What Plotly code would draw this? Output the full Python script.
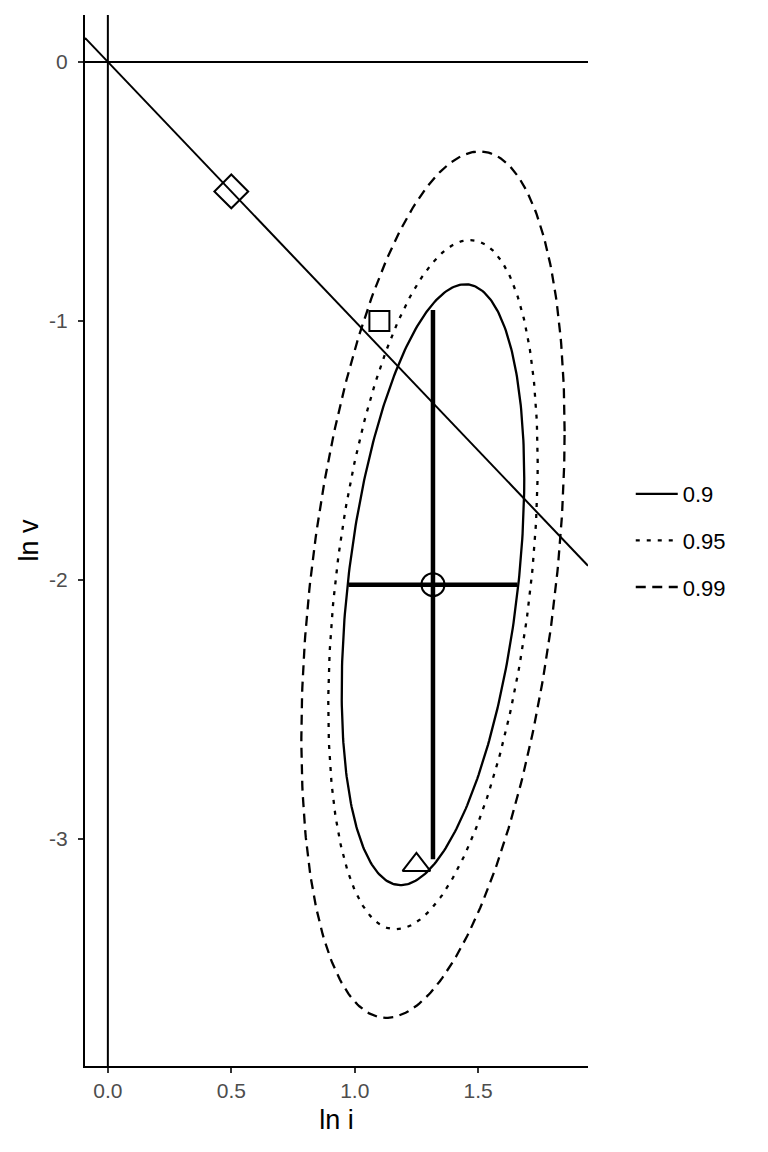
import numpy as np
import plotly.graph_objects as go

# ---- data ----
levels = ["0.9", "0.95", "0.99"]
level_radius = [2.188, 2.510, 3.155]          # ellipse radius multipliers
level_dash = ["solid", "4px,7px", "10px,6.5px"]

center_x, center_y = 1.317, -2.018              # mean point (open circle)
sd_x, sd_y, rho = 0.169, 0.530, 0.354           # ellipse covariance params

err_x_half = 0.342                              # horizontal bar half width
err_y_half = 1.060                              # vertical bar half height

pt_names = ["diamond", "square", "triangle"]
pt_x = [0.5, 1.1, 1.25]
pt_y = [-0.5, -1.0, -3.1]
pt_symbol = ["diamond-open", "square-open", "triangle-up-open"]
pt_size = [26, 20, 24]

abline_slope, abline_intercept = -1.0, 0.0
hline_y = 0.0
vline_x = 0.0

x_range = [-0.0926, 1.945]
y_range = [-3.876, 0.181]
x_ticks = [0, 0.5, 1.0, 1.5]
x_tick_labels = ["0.0", "0.5", "1.0", "1.5"]
y_ticks = [0, -1, -2, -3]
y_tick_labels = ["0", "-1", "-2", "-3"]

FONT = "Liberation Sans, Arial, sans-serif"

fig = go.Figure()

# reference lines
fig.add_shape(type="line", xref="paper", yref="y", x0=0, x1=1, y0=hline_y, y1=hline_y,
              line=dict(color="black", width=2), layer="above")
fig.add_shape(type="line", xref="x", yref="paper", x0=vline_x, x1=vline_x, y0=0, y1=1,
              line=dict(color="black", width=2), layer="above")
fig.add_shape(type="line", xref="x", yref="y",
              x0=x_range[0], x1=x_range[1],
              y0=abline_intercept + abline_slope * x_range[0],
              y1=abline_intercept + abline_slope * x_range[1],
              line=dict(color="black", width=2), layer="above")

# ellipses
t = np.linspace(0, 2 * np.pi, 361)
for lev, r, dash in zip(levels, level_radius, level_dash):
    ex = center_x + r * sd_x * np.cos(t)
    ey = center_y + r * sd_y * (rho * np.cos(t) + np.sqrt(1 - rho ** 2) * np.sin(t))
    fig.add_trace(go.Scatter(x=ex, y=ey, mode="lines", name=lev, legendgroup=lev,
                             line=dict(color="black", width=2.3, dash=dash)))

# mean with error bars
fig.add_trace(go.Scatter(
    x=[center_x], y=[center_y], mode="markers", showlegend=False,
    marker=dict(symbol="circle-open", size=23, color="black", line=dict(width=2)),
    error_x=dict(type="constant", value=err_x_half, width=0, thickness=4.5, color="black"),
    error_y=dict(type="constant", value=err_y_half, width=0, thickness=4.5, color="black"),
))

# other points
for n, x, y, s, sz in zip(pt_names, pt_x, pt_y, pt_symbol, pt_size):
    fig.add_trace(go.Scatter(x=[x], y=[y], mode="markers", name=n, showlegend=False,
                             marker=dict(symbol=s, size=sz, color="black",
                                         line=dict(width=2, color="black"))))

fig.update_layout(
    width=768, height=1152,
    template="none",
    paper_bgcolor="white", plot_bgcolor="white",
    margin=dict(l=77, r=188, t=7, b=94),
    font=dict(family=FONT, color="black"),
    legend=dict(x=1.085, xanchor="left", y=0.5, yanchor="middle",
                font=dict(size=22, color="black"), tracegroupgap=15,
                itemwidth=42,
                bgcolor="rgba(0,0,0,0)"),
    xaxis=dict(range=x_range, showgrid=False, zeroline=False, showline=True,
               linecolor="black", linewidth=2, ticks="outside", ticklen=5,
               tickwidth=2, tickcolor="#333333", tickvals=x_ticks, ticktext=x_tick_labels,
               tickfont=dict(size=21, color="#4D4D4D"), automargin=False,
               title=dict(text="ln i", font=dict(size=27, color="black"), standoff=9)),
    yaxis=dict(range=y_range, showgrid=False, zeroline=False, showline=True,
               linecolor="black", linewidth=2, ticks="outside", ticklen=5,
               tickwidth=2, tickcolor="#333333", tickvals=y_ticks, ticktext=y_tick_labels,
               ticklabelstandoff=6,
               tickfont=dict(size=21, color="#4D4D4D"), automargin=False,
               title=dict(text="ln v", font=dict(size=27, color="black"), standoff=3)),
)

fig.write_html("out.html")
